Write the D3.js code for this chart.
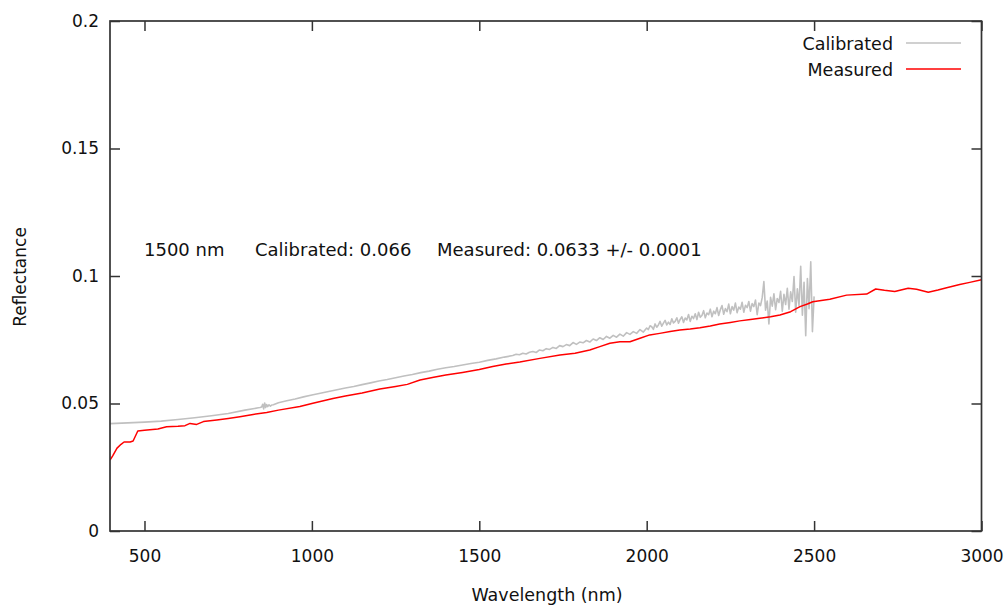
<!DOCTYPE html>
<html><head><meta charset="utf-8">
<script src="https://cdn.jsdelivr.net/npm/d3@7"></script>
<style>body{margin:0;background:#fff}svg{display:block}text{font-family:"DejaVu Sans",Verdana,sans-serif;fill:#111}</style>
</head><body><svg id="c" width="1008" height="606"></svg>
<script>
const xTicks=[500,1000,1500,2000,2500,3000];
const yTicks=[0,0.05,0.1,0.15,0.2];
const yTickLabels=["0","0.05","0.1","0.15","0.2"];
const seriesNames=["Calibrated","Measured"];
const annotation=["1500 nm","Calibrated: 0.066","Measured: 0.0633 +/- 0.0001"];

const calWavelength=[397,450,500,550,600,650,700,750,800,840,
845,850,853,856,859,862,865,868,872,876,880,885,
900,925,950,975,1000,1025,1050,1075,1100,1125,1150,1175,1200,1225,1250,1275,1300,1325,1350,1375,1400,1425,1450,1475,1500,1525,1550,1575,
1600,1610,1620,1630,1640,1650,1660,1670,1680,1690,1700,1710,1720,1730,1740,1750,1760,1770,1780,1790,1800,1810,1820,1830,1840,1850,1860,1870,1880,1890,1900,1910,1920,1930,1940,1950,1960,1970,1980,1990,2000,
2005,2010,2015,2020,2025,2030,2035,2040,2045,2050,2055,2060,2065,2070,2075,2080,2085,2090,2095,2100,
2105,2110,2115,2120,2125,2130,2135,2140,2145,2150,2155,2160,2165,2170,2175,2180,2185,2190,2195,2200,
2205,2210,2215,2220,2225,2230,2235,2240,2245,2250,2255,2260,2265,2270,2275,2280,2285,2290,2295,2300,
2305,2310,2315,2320,2325,2330,2335,2340,2345,2350,2355,2360,2365,2370,2375,2380,2385,2390,2395,2400,
2405,2410,2415,2420,2425,2430,2435,2440,2445,2450,2455,2460,2465,2470,2475,2480,2485,2490,2495,2500];
const calReflectance=[0.0421,0.0424,0.0427,0.0431,0.0437,0.0444,0.0452,0.0461,0.0474,0.0483,
0.0484,0.0486,0.0497,0.0479,0.0502,0.0484,0.0496,0.0488,0.0495,0.0490,0.0494,0.0495,
0.0503,0.0511,0.0518,0.0526,0.0533,0.0540,0.0547,0.0554,0.0561,0.0567,0.0574,0.0581,0.0588,0.0594,0.0601,0.0608,0.0614,0.0621,0.0627,0.0634,0.0640,0.0645,0.0651,0.0657,0.0662,0.0669,0.0675,0.0682,
0.0688,0.0693,0.0691,0.0697,0.0694,0.0701,0.0704,0.0700,0.0710,0.0707,0.0715,0.0712,0.0720,0.0716,0.0727,0.0723,0.0731,0.0727,0.0739,0.0732,0.0741,0.0738,0.0747,0.0741,0.0753,0.0747,0.0758,0.0751,0.0763,0.0756,0.0767,0.0760,0.0772,0.0764,0.0778,0.0771,0.0782,0.0775,0.0790,0.0780,0.0796,
0.0790,0.0805,0.0801,0.0791,0.0812,0.0799,0.0808,0.0822,0.0803,0.0815,0.0826,0.0808,0.0819,0.0810,0.0832,0.0816,0.0822,0.0836,0.0815,0.0830,
0.0840,0.0818,0.0835,0.0828,0.0849,0.0822,0.0842,0.0833,0.0852,0.0829,0.0858,0.0838,0.0845,0.0864,0.0836,0.0855,0.0848,0.0870,0.0840,0.0862,
0.0852,0.0876,0.0845,0.0868,0.0884,0.0850,0.0872,0.0860,0.0890,0.0852,0.0880,0.0866,0.0894,0.0856,0.0878,0.0870,0.0897,0.0858,0.0885,0.0876,
0.0900,0.0862,0.0892,0.0880,0.0906,0.0848,0.0894,0.0884,0.0915,0.0978,0.0866,0.0902,0.0812,0.0916,0.0882,0.0930,0.0868,0.0912,0.0896,0.0940,
0.0862,0.0928,0.0888,0.0952,0.0870,0.0938,0.0900,0.0998,0.0858,0.0950,0.0884,0.1038,0.0846,0.0975,0.0766,0.0990,0.0872,0.1056,0.0782,0.0920];

const measWavelength=[397,405,418,430,439,457,466,480,500,540,566,600,621,636,656,676,716,750,785,820,865,900,964,1003,1063,1100,1150,1203,1250,1285,1323,1360,1400,1450,1500,1540,1580,1621,1681,1741,1786,1830,1860,1890,1920,1950,1980,2009,2039,2070,2099,2130,2159,2190,2218,2250,2278,2310,2338,2370,2398,2430,2458,2480,2496,2547,2597,2657,2684,2710,2741,2781,2806,2841,2870,2896,2935,2965,3000];
const measReflectance=[0.0278,0.0295,0.0325,0.0340,0.0349,0.0349,0.0353,0.0392,0.0395,0.0400,0.0409,0.0411,0.0413,0.0422,0.0418,0.0429,0.0435,0.0441,0.0448,0.0456,0.0465,0.0474,0.0488,0.0501,0.0520,0.0529,0.0541,0.0557,0.0567,0.0575,0.0592,0.0602,0.0612,0.0622,0.0633,0.0645,0.0655,0.0663,0.0677,0.0690,0.0697,0.0710,0.0723,0.0736,0.0742,0.0742,0.0756,0.0769,0.0775,0.0782,0.0788,0.0792,0.0797,0.0804,0.0812,0.0818,0.0824,0.0829,0.0834,0.0840,0.0847,0.0860,0.0880,0.0890,0.0899,0.0909,0.0925,0.0929,0.0949,0.0944,0.0939,0.0952,0.0948,0.0936,0.0945,0.0954,0.0967,0.0975,0.0985];

const svg=d3.select("#c");
const L=110,R=981.5,T=21,B=531;
const x=d3.scaleLinear().domain([397,3000]).range([L,R]);
const y=d3.scaleLinear().domain([0,0.2]).range([B,T]);
const axisColor="#333";

svg.append("clipPath").attr("id","clip").append("rect").attr("x",L).attr("y",T).attr("width",R-L).attr("height",B-T);

const calData=calWavelength.map((w,i)=>[w,calReflectance[i]]);
const measData=measWavelength.map((w,i)=>[w,measReflectance[i]]);
const line=d3.line().x(d=>x(d[0])).y(d=>y(d[1]));
const plot=svg.append("g").attr("clip-path","url(#clip)");
plot.append("path").datum(calData).attr("d",line).attr("fill","none").attr("stroke","#c0c0c0").attr("stroke-width",1.6).attr("stroke-linejoin","round");
plot.append("path").datum(measData).attr("d",line).attr("fill","none").attr("stroke","#ff0000").attr("stroke-width",1.5).attr("stroke-linejoin","round");

function styleAxis(g){g.select(".domain").remove();g.selectAll("line").attr("stroke",axisColor).attr("stroke-width",1.5);g.selectAll("text").attr("font-size",17).attr("fill","#111").attr("font-family","'DejaVu Sans',Verdana,sans-serif");}
svg.append("g").attr("transform",`translate(0,${B})`).call(d3.axisBottom(x).tickValues(xTicks).tickFormat(d3.format("d")).tickSizeInner(-10).tickSizeOuter(0).tickPadding(19)).call(styleAxis);
svg.append("g").attr("transform",`translate(0,${T})`).call(d3.axisTop(x).tickValues(xTicks).tickFormat("").tickSizeInner(-10).tickSizeOuter(0)).call(styleAxis);
svg.append("g").attr("transform",`translate(${L},0)`).call(d3.axisLeft(y).tickValues(yTicks).tickFormat((d,i)=>yTickLabels[i]).tickSizeInner(-10).tickSizeOuter(0).tickPadding(11)).call(styleAxis);
svg.append("g").attr("transform",`translate(${R},0)`).call(d3.axisRight(y).tickValues(yTicks).tickFormat("").tickSizeInner(-10).tickSizeOuter(0)).call(styleAxis);

svg.append("rect").attr("x",L).attr("y",T).attr("width",R-L).attr("height",B-T).attr("fill","none").attr("stroke",axisColor).attr("stroke-width",1.7);

svg.append("text").attr("x",547).attr("y",601).attr("text-anchor","middle").attr("font-size",17.5).text("Wavelength (nm)");
svg.append("text").attr("transform","translate(26,277) rotate(-90)").attr("text-anchor","middle").attr("font-size",17).text("Reflectance");

const annX=[144,255,437];
annotation.forEach((t,i)=>svg.append("text").attr("x",annX[i]).attr("y",256).attr("font-size",18).text(t));

const legColors=["#c0c0c0","#ff0000"];
seriesNames.forEach((n,i)=>{
  const yy=44+i*26;
  svg.append("text").attr("x",893).attr("y",yy+6).attr("text-anchor","end").attr("font-size",17.5).text(n);
  svg.append("line").attr("x1",906).attr("x2",961).attr("y1",yy-1).attr("y2",yy-1).attr("stroke",legColors[i]).attr("stroke-width",i==0?1.6:1.5);
});
</script></body></html>
